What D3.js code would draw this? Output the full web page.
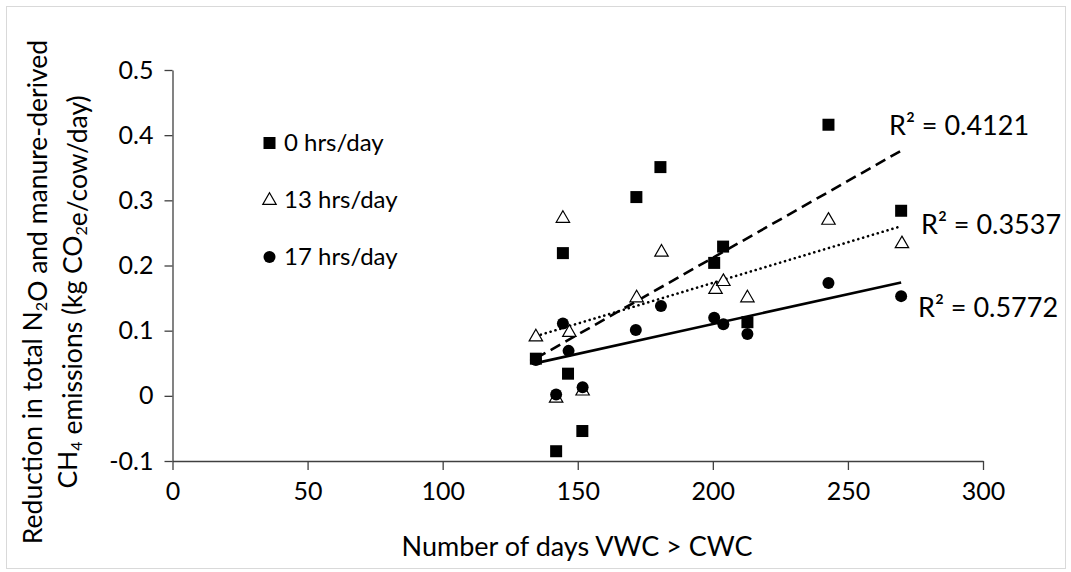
<!DOCTYPE html>
<html>
<head>
<meta charset="utf-8">
<script src="https://cdn.jsdelivr.net/npm/d3@7"></script>
<style>
  body { margin: 0; background: #fff; }
  svg text { font-family: Lato, "Open Sans", sans-serif; fill: #000; }
</style>
</head>
<body>
<div id="chart"></div>
<script>
// days VWC > CWC, shared by the three series
var days0  = [134.5, 142, 144.5, 146.4, 151.7, 171.7, 180.6, 200.5, 203.8, 212.8, 242.8, 269.7];
var red0   = [0.057, -0.085, 0.219, 0.034, -0.054, 0.305, 0.351, 0.204, 0.229, 0.113, 0.416, 0.284];

var days13 = [134.5, 142, 144.5, 146.9, 151.8, 171.8, 181, 201, 203.9, 212.8, 242.8, 270];
var red13  = [0.091, -0.003, 0.273, 0.098, 0.008, 0.151, 0.221, 0.164, 0.176, 0.151, 0.270, 0.234];

var days17 = [134.5, 142, 144.5, 146.6, 151.8, 171.5, 180.8, 200.5, 203.9, 212.8, 242.8, 269.7];
var red17  = [0.055, 0.002, 0.111, 0.069, 0.013, 0.101, 0.138, 0.120, 0.110, 0.095, 0.173, 0.153];

var seriesNames = ["0 hrs/day", "13 hrs/day", "17 hrs/day"];
var r2Labels = ["R\u00b2 = 0.4121", "R\u00b2 = 0.3537", "R\u00b2 = 0.5772"];

var xTicks = [0, 50, 100, 150, 200, 250, 300];
var yTicks = [-0.1, 0, 0.1, 0.2, 0.3, 0.4, 0.5];

var width = 1071, height = 572;

var svg = d3.select("#chart").append("svg")
    .attr("width", width)
    .attr("height", height);

// outer chart border
svg.append("rect")
    .attr("x", 6.5).attr("y", 6.5)
    .attr("width", 1059).attr("height", 562)
    .attr("fill", "#fff")
    .attr("stroke", "#d9d9d9");

var x = d3.scaleLinear().domain([0, 300]).range([172.5, 983]);
var y = d3.scaleLinear().domain([-0.1, 0.5]).range([461, 70]);

var fmt = function (d) { return String(+d.toFixed(1)); };

// axes
var xAxis = svg.append("g")
    .attr("transform", "translate(0," + y(-0.1) + ")")
    .call(d3.axisBottom(x).tickValues(xTicks).tickSize(9).tickSizeOuter(0).tickPadding(12).tickFormat(fmt));

var yAxis = svg.append("g")
    .attr("transform", "translate(" + x(0) + ",0)")
    .call(d3.axisLeft(y).tickValues(yTicks).tickSize(8).tickSizeOuter(0).tickPadding(11).tickFormat(fmt));

[xAxis, yAxis].forEach(function (g) {
    g.selectAll("path, line").attr("stroke", "#404040").attr("stroke-width", 1.3);
    g.selectAll("text").style("font-size", "25px").attr("fill", "#000");
});

// axis titles
svg.append("text")
    .attr("x", 577).attr("y", 556)
    .attr("text-anchor", "middle")
    .style("font-size", "27px")
    .text("Number of days VWC > CWC");

var yTitle = svg.append("text")
    .attr("transform", "translate(0,292) rotate(-90)")
    .attr("text-anchor", "middle")
    .style("font-size", "26.5px");

function sub(parent, t) {
    parent.append("tspan").attr("dy", 5).style("font-size", "16px").text(t);
    parent.append("tspan").attr("dy", -5).text("");
}

var l1 = yTitle.append("tspan").attr("x", 0).attr("y", 42);
l1.append("tspan").text("Reduction in total N");
sub(l1, "2");
l1.append("tspan").text("O and manure-derived");

var l2 = yTitle.append("tspan").attr("x", 0).attr("y", 77);
l2.append("tspan").text("CH");
sub(l2, "4");
l2.append("tspan").text(" emissions (kg CO");
sub(l2, "2");
l2.append("tspan").text("e/cow/day)");

// series
var series = [
    { name: seriesNames[0], xs: days0,  ys: red0,  shape: "square",   dash: "11,6", cap: "butt" },
    { name: seriesNames[1], xs: days13, ys: red13, shape: "triangle", dash: "0.1,5", cap: "round" },
    { name: seriesNames[2], xs: days17, ys: red17, shape: "circle",   dash: null, cap: "butt" }
];

function fit(xs, ys) {
    var mx = d3.mean(xs), my = d3.mean(ys);
    var sxy = d3.sum(xs, function (v, i) { return (v - mx) * (ys[i] - my); });
    var sxx = d3.sum(xs, function (v) { return (v - mx) * (v - mx); });
    var b = sxy / sxx;
    return { b: b, a: my - b * mx };
}

function drawMarker(g, shape, cx, cy) {
    if (shape === "square") {
        g.append("rect")
            .attr("x", cx - 6).attr("y", cy - 6)
            .attr("width", 12).attr("height", 12)
            .attr("fill", "#000");
    } else if (shape === "triangle") {
        var tri = d3.symbol().type(d3.symbolTriangle).size(78);
        g.append("path")
            .attr("d", tri())
            .attr("transform", "translate(" + cx + "," + (cy + 0.5) + ")")
            .attr("fill", "#fff")
            .attr("stroke", "#000")
            .attr("stroke-width", 1.2);
    } else {
        g.append("circle")
            .attr("cx", cx).attr("cy", cy).attr("r", 6)
            .attr("fill", "#000");
    }
}

// trendlines
series.forEach(function (s) {
    var f = fit(s.xs, s.ys);
    var x0 = d3.min(s.xs), x1 = d3.max(s.xs);
    svg.append("line")
        .attr("x1", x(x0)).attr("y1", y(f.a + f.b * x0))
        .attr("x2", x(x1)).attr("y2", y(f.a + f.b * x1))
        .attr("stroke", "#000")
        .attr("stroke-width", 2.6)
        .attr("stroke-linecap", s.cap)
        .attr("stroke-dasharray", s.dash);
});

// points: squares first, then triangles, circles on top
series.forEach(function (s) {
    var g = svg.append("g");
    s.xs.forEach(function (d, i) {
        drawMarker(g, s.shape, x(d), y(s.ys[i]));
    });
});

// R² labels
var r2Pos = [[889, 135], [921, 234], [918, 317]];
r2Labels.forEach(function (t, i) {
    svg.append("text")
        .attr("x", r2Pos[i][0]).attr("y", r2Pos[i][1])
        .style("font-size", "27px")
        .text(t);
});

// legend
var legend = svg.append("g");
series.forEach(function (s, i) {
    var ly = 143 + i * 57;
    drawMarker(legend, s.shape, 269.5, ly);
    legend.append("text")
        .attr("x", 284).attr("y", ly + 8)
        .style("font-size", "24px")
        .text(s.name);
});
</script>
</body>
</html>
